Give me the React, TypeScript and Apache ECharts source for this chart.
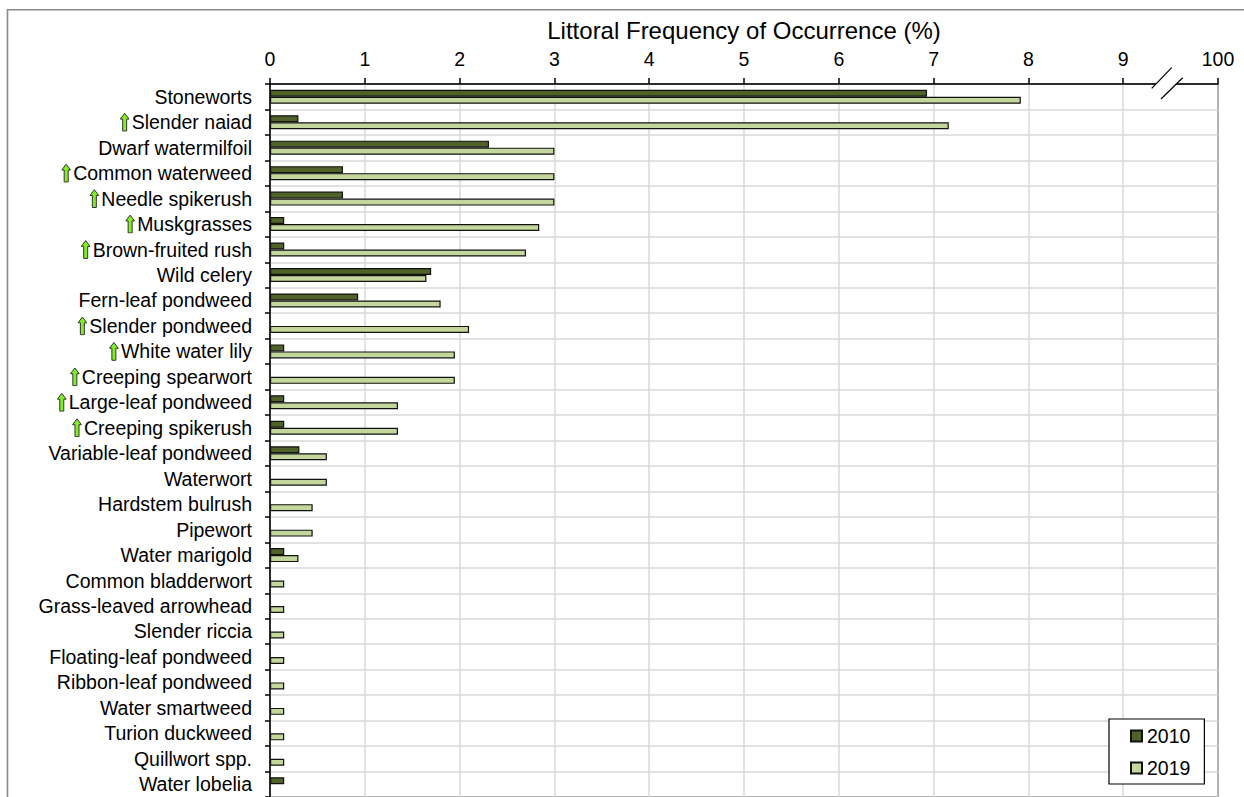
import React, { useEffect, useRef } from "react";
import * as echarts from "echarts";

const categories = [
  "Stoneworts", "Slender naiad", "Dwarf watermilfoil", "Common waterweed", "Needle spikerush",
  "Muskgrasses", "Brown-fruited rush", "Wild celery", "Fern-leaf pondweed", "Slender pondweed",
  "White water lily", "Creeping spearwort", "Large-leaf pondweed", "Creeping spikerush",
  "Variable-leaf pondweed", "Waterwort", "Hardstem bulrush", "Pipewort", "Water marigold",
  "Common bladderwort", "Grass-leaved arrowhead", "Slender riccia", "Floating-leaf pondweed",
  "Ribbon-leaf pondweed", "Water smartweed", "Turion duckweed", "Quillwort spp.", "Water lobelia",
];

const increased = [
  "Slender naiad", "Common waterweed", "Needle spikerush", "Muskgrasses", "Brown-fruited rush",
  "Slender pondweed", "White water lily", "Creeping spearwort", "Large-leaf pondweed", "Creeping spikerush",
];

const values2010: (number | string)[] = [
  6.93, 0.3, 2.31, 0.77, 0.77, 0.15, 0.15, 1.7, 0.93, "-", 0.15, "-", 0.15, 0.15,
  0.31, "-", "-", "-", 0.15, "-", "-", "-", "-", "-", "-", "-", "-", 0.15,
];

const values2019: (number | string)[] = [
  7.92, 7.16, 3.0, 3.0, 3.0, 2.84, 2.7, 1.65, 1.8, 2.1, 1.95, 1.95, 1.35, 1.35,
  0.6, 0.6, 0.45, 0.45, 0.3, 0.15, 0.15, 0.15, 0.15, 0.15, 0.15, 0.15, 0.15, "-",
];

const xTickLabels: Record<number, string> = {
  0: "0", 1: "1", 2: "2", 3: "3", 4: "4", 5: "5", 6: "6", 7: "7", 8: "8", 9: "9", 10: "100",
};

const FONT = "Liberation Sans, Arial, sans-serif";
const FS = 19.5;

const arrowSvg =
  "<svg xmlns='http://www.w3.org/2000/svg' width='10' height='19' viewBox='0 0 10 19'>" +
  "<polygon points='5,0.6 9.4,6.4 7,6.4 7,18.4 3,18.4 3,6.4 0.6,6.4' fill='#80F020' stroke='#333' stroke-width='1' stroke-linejoin='miter'/></svg>";
const arrowUrl = "data:image/svg+xml;charset=utf-8," + encodeURIComponent(arrowSvg);

export default function App() {
  const ref = useRef<HTMLDivElement>(null);
  useEffect(() => {
    if (!ref.current) return;
    const chart = echarts.init(ref.current, undefined, { renderer: "svg" });
    const option: any = {
      animation: false,
      backgroundColor: "#fff",
      textStyle: { fontFamily: FONT },
      grid: {
        left: 270,
        right: 26,
        top: 84,
        bottom: 0,
        show: true,
        borderColor: "#000",
        borderWidth: 1.5,
        backgroundColor: "transparent",
      },
      legend: {
        orient: "vertical",
        left: 1109,
        top: 719,
        data: ["2010", "2019"],
        icon: "rect",
        itemWidth: 11,
        itemHeight: 11,
        itemGap: 12,
        padding: [7, 14, 6, 21],
        borderColor: "#000",
        borderWidth: 1.2,
        backgroundColor: "#fff",
        textStyle: { fontSize: FS, color: "#000", fontFamily: FONT, lineHeight: 20 },
      },
      xAxis: {
        type: "value",
        position: "top",
        min: 0,
        max: 10,
        interval: 1,
        name: "Littoral Frequency of Occurrence (%)",
        nameLocation: "middle",
        nameGap: 42,
        nameTextStyle: { fontSize: 24, color: "#000", fontFamily: FONT },
        axisLine: { show: true, lineStyle: { color: "#000", width: 1.5 } },
        axisTick: { show: true, inside: false, length: 6, lineStyle: { color: "#000", width: 1.5 } },
        axisLabel: {
          fontSize: FS,
          color: "#000",
          fontFamily: FONT,
          margin: 15,
          formatter: (v: number) => xTickLabels[v] ?? String(v),
        },
        splitLine: { show: true, lineStyle: { color: "#d9d9d9", width: 1.5 } },
      },
      yAxis: {
        type: "category",
        inverse: true,
        data: categories,
        axisLine: { show: true, lineStyle: { color: "#000", width: 1.5 } },
        axisTick: { show: true, interval: 0, length: 5, lineStyle: { color: "#000", width: 1.5 } },
        splitLine: { show: true, interval: 0, lineStyle: { color: "#d9d9d9", width: 1.5 } },
        axisLabel: {
          interval: 0,
          fontSize: FS,
          color: "#000",
          fontFamily: FONT,
          margin: 18,
          formatter: (name: string) =>
            increased.includes(name) ? "{a|}{g|}" + name : name,
          rich: {
            a: {
              width: 10,
              height: 19,
              backgroundColor: { image: arrowUrl },
            },
            g: { width: 2, height: 1 },
          },
        },
      },
      series: [
        {
          name: "2010",
          type: "bar",
          data: values2010,
          barWidth: 7,
          barGap: "0%",
          itemStyle: { color: "#4F6228", borderColor: "#111", borderWidth: 1.2 },
        },
        {
          name: "2019",
          type: "bar",
          data: values2019,
          barWidth: 7,
          barGap: "0%",
          itemStyle: { color: "#C3D69B", borderColor: "#111", borderWidth: 1.2 },
        },
      ],
      graphic: [
        {
          type: "rect",
          silent: true,
          shape: { x: 7.5, y: 9.8, width: 1400, height: 1000 },
          style: { fill: "none", stroke: "#898989", lineWidth: 1.6 },
          z: 100,
        },
        {
          type: "polygon",
          silent: true,
          shape: { points: [[1151.7, 88.3], [1171.7, 67.7], [1182.7, 77.7], [1161, 99]] },
          style: { fill: "#fff", stroke: "none" },
          z: 100,
        },
        {
          type: "line",
          silent: true,
          shape: { x1: 1151.7, y1: 88.3, x2: 1171.7, y2: 67.7 },
          style: { stroke: "#000", lineWidth: 1.2 },
          z: 101,
        },
        {
          type: "line",
          silent: true,
          shape: { x1: 1161, y1: 99, x2: 1182.7, y2: 77.7 },
          style: { stroke: "#000", lineWidth: 1.2 },
          z: 101,
        },
      ],
    };
    chart.setOption(option);
    return () => chart.dispose();
  }, []);
  return (
    <div
      ref={ref}
      style={{ position: "absolute", left: 0, top: 0, width: 1244, height: 797 }}
    />
  );
}
